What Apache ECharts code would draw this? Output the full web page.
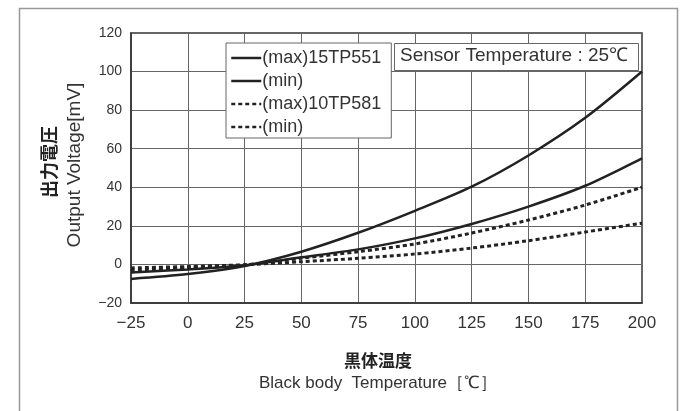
<!DOCTYPE html>
<html>
<head>
<meta charset="utf-8">
<style>
  html, body { margin: 0; padding: 0; background: #fff; }
  #chart { width: 684px; height: 411px; }
</style>
<script src="https://cdn.jsdelivr.net/npm/echarts@6/dist/echarts.min.js"></script>
</head>
<body>
<div id="chart"></div>
<script>
  // 黒体温度 [℃]
  var temps = [-25, 0, 25, 50, 75, 100, 125, 150, 175, 200];
  // 出力電圧 [mV]
  var tp551Max = [-7.5, -5.0, -0.8, 6.6, 16.4, 27.8, 40.3, 56.5, 76.0, 100.0];
  var tp551Min = [-4.2, -2.6, -0.4, 3.7, 7.8, 13.5, 21.0, 30.0, 40.8, 55.0];
  var tp581Max = [-3.0, -1.9, -0.3, 3.2, 6.6, 10.6, 16.3, 23.0, 30.8, 40.0];
  var tp581Min = [-1.8, -1.1, -0.15, 1.4, 3.2, 5.4, 8.5, 12.3, 16.8, 21.4];

  var font = '"Liberation Sans", Arial, sans-serif';
  var cjk = '"Noto Sans CJK JP", sans-serif';

  function pairs(ys) {
    return temps.map(function (t, i) { return [t, ys[i]]; });
  }
  function minus(v) { return String(v).replace('-', '\u2212'); }

  var chart = echarts.init(document.getElementById('chart'));

  function line(name, ys, dashed) {
    return {
      name: name,
      type: 'line',
      data: pairs(ys),
      smooth: 0.3,
      symbol: 'none',
      lineStyle: {
        color: '#222',
        width: dashed ? 3 : 2.5,
        type: dashed ? [4, 3] : 'solid'
      },
      itemStyle: { color: '#222' }
    };
  }

  chart.setOption({
    animation: false,
    grid: {
      left: 131, right: 42, top: 33, bottom: 108,
      show: true, borderColor: '#333', borderWidth: 1.5
    },
    xAxis: {
      type: 'value', min: -25, max: 200, interval: 25,
      axisLine: { onZero: false, lineStyle: { color: '#333', width: 1.5 } },
      axisTick: { show: false },
      axisLabel: { color: '#333', fontSize: 17, fontFamily: font, margin: 12, formatter: minus },
      splitLine: { lineStyle: { color: '#666', width: 1 } }
    },
    yAxis: {
      type: 'value', min: -20, max: 120, interval: 20,
      axisLine: { show: true, onZero: false, lineStyle: { color: '#333', width: 1.5 } },
      axisTick: { show: false },
      axisLabel: { color: '#333', fontSize: 14, fontFamily: font, margin: 9, formatter: minus },
      splitLine: { lineStyle: { color: '#666', width: 1 } }
    },
    legend: {
      orient: 'vertical',
      left: 226, top: 43,
      backgroundColor: '#fff',
      borderColor: '#666', borderWidth: 1,
      padding: [6, 10, 2, 4],
      itemGap: 5,
      itemWidth: 30, itemHeight: 18,
      itemStyle: { opacity: 0 },
      lineStyle: { width: 2.5 },
      textStyle: { color: '#333', fontSize: 18, fontFamily: font, padding: [0, 0, 0, -4] },
      formatter: function (n) { return n.indexOf('(min)') === 0 ? '(min)' : n; },
      data: ['(max)15TP551', '(min)15TP551', '(max)10TP581', '(min)10TP581']
    },
    series: [
      line('(max)15TP551', tp551Max, false),
      line('(min)15TP551', tp551Min, false),
      line('(max)10TP581', tp581Max, true),
      line('(min)10TP581', tp581Min, true)
    ],
    graphic: [
      {
        type: 'rect', left: 17, top: 6, silent: true,
        shape: { width: 658, height: 420 },
        style: { fill: 'none', stroke: '#999', lineWidth: 1.5 }
      },
      {
        type: 'rect', left: 394, top: 43, z: 10,
        shape: { width: 244, height: 27 },
        style: { fill: '#fff', stroke: '#666', lineWidth: 1 }
      },
      {
        type: 'text', left: 400, top: 46, z: 11,
        style: { text: 'Sensor Temperature : 25\u2103', fill: '#333', font: '19px ' + font }
      },
      {
        type: 'text', x: 378, y: 361, z: 11,
        style: { text: '黒体温度', fill: '#222', font: 'bold 17px ' + cjk, align: 'center', verticalAlign: 'middle' }
      },
      {
        type: 'text', x: 378, y: 383, z: 11,
        style: { text: 'Black body  Temperature\uFF3B\u2103\uFF3D', fill: '#333', font: '17px ' + font, align: 'center', verticalAlign: 'middle' }
      },
      {
        type: 'text', x: 49, y: 162, rotation: Math.PI / 2, z: 11,
        style: { text: '出力電圧', fill: '#222', font: 'bold 18px ' + cjk, align: 'center', verticalAlign: 'middle' }
      },
      {
        type: 'text', x: 75, y: 165, rotation: Math.PI / 2, z: 11,
        style: { text: 'Output Voltage[mV]', fill: '#333', font: '19px ' + font, align: 'center', verticalAlign: 'middle' }
      }
    ]
  });
</script>
</body>
</html>
